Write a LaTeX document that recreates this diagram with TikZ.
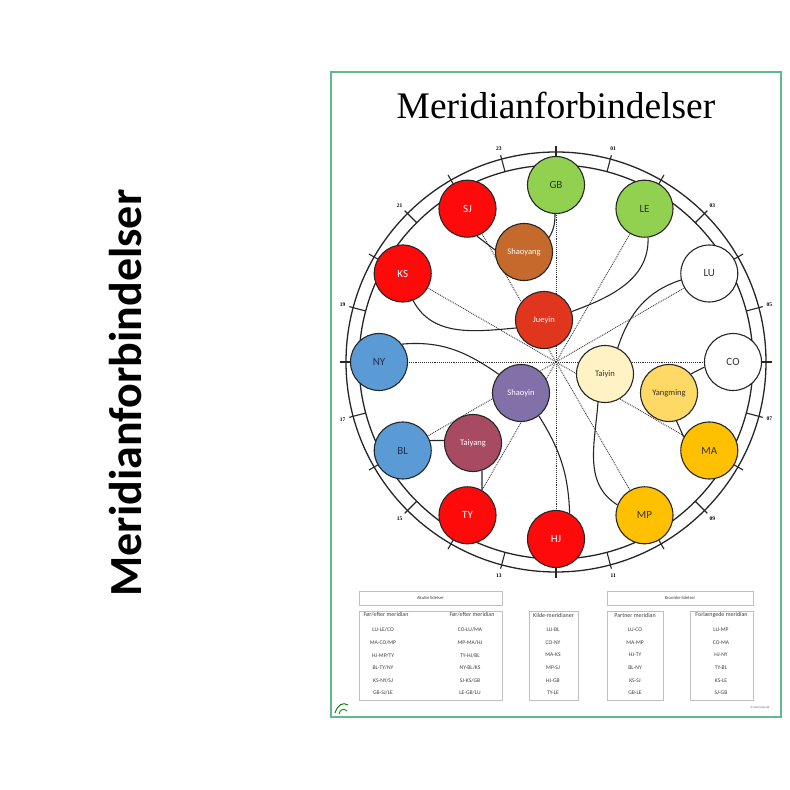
\documentclass[tikz,border=0pt]{standalone}
\usepackage{fontspec}
\setmainfont{Carlito}
\newfontfamily\titlefont{Liberation Serif}
\newfontfamily\tickfont{Liberation Serif}
\pgfdeclarelayer{bg}
\pgfsetlayers{bg,main}
\definecolor{cgreen}{HTML}{92D050}
\definecolor{cgold}{HTML}{FFC000}
\definecolor{cred}{HTML}{FF0A0A}
\definecolor{cblue}{HTML}{5B9BD5}
\definecolor{cshaoyang}{HTML}{C5692C}
\definecolor{cjueyin}{HTML}{E0361E}
\definecolor{cshaoyin}{HTML}{8270A8}
\definecolor{ctaiyang}{HTML}{A84A62}
\definecolor{ctaiyin}{HTML}{FFF2C4}
\definecolor{cyangming}{HTML}{FFD966}
\definecolor{frameg}{HTML}{5DBB8C}
\definecolor{navy}{HTML}{1F3150}
\definecolor{darktxt}{HTML}{333333}
\begin{document}
\begin{tikzpicture}[x=1pt,y=1pt,
  outer/.style={circle, draw=black!85, line width=1.1pt, minimum size=57pt, inner sep=0pt, font=\fontsize{11}{11}\selectfont},
  inner/.style={circle, draw=black!85, line width=1.1pt, minimum size=57pt, inner sep=0pt, font=\fontsize{8.5}{8.5}\selectfont},
  ring/.style={line width=1.3pt, draw=black!85},
  tickmark/.style={line width=1.1pt, draw=black!85},
  ticklabel/.style={font=\tickfont\bfseries\fontsize{5.5}{5.5}\selectfont, inner sep=0pt},
  spoke/.style={densely dotted, line width=0.9pt, draw=black!80},
  link/.style={line width=1.1pt, draw=black!85},
  tbox/.style={draw=black!25, line width=0.5pt, inner sep=0pt},
  thead/.style={font=\fontsize{6}{6}\selectfont, text=black!75, inner sep=0pt},
  tentry/.style={font=\fontsize{5.6}{5.6}\selectfont, text=black!75, inner sep=0pt},
  frame/.style={draw=frameg, line width=1.6pt}
]
\useasboundingbox (0,0) rectangle (790,790);
\begin{pgfonlayer}{bg}
  \fill[white] (0,0) rectangle (790,790);
\end{pgfonlayer}

% side title
\node[rotate=90, font=\fontsize{46}{46}\selectfont\bfseries, inner sep=0pt] (side) at (126,397) {Meridianforbindelser};

% poster frame
\draw[frame] (331,73) rectangle (781,718);
\node[font=\titlefont\fontsize{37.5}{40}\selectfont, inner sep=0pt] (title) at (556,685) {Meridianforbindelser};

\coordinate (C) at (556,428);

% outer meridian circles
\node[outer, fill=cgreen, text=darktxt] (GB) at ([shift={(90:177)}]C) {GB};
\node[outer, fill=cgreen, text=darktxt] (LE) at ([shift={(60:177)}]C) {LE};
\node[outer, fill=white, text=darktxt] (LU) at ([shift={(30:177)}]C) {LU};
\node[outer, fill=white, text=darktxt] (CO) at ([shift={(0:177)}]C) {CO};
\node[outer, fill=cgold, text=darktxt] (MA) at ([shift={(-30:177)}]C) {MA};
\node[outer, fill=cgold, text=darktxt] (MP) at ([shift={(-60:177)}]C) {MP};
\node[outer, fill=cred, text=white] (HJ) at ([shift={(-90:177)}]C) {HJ};
\node[outer, fill=cred, text=white] (TY) at ([shift={(-120:177)}]C) {TY};
\node[outer, fill=cblue, text=navy] (BL) at ([shift={(-150:177)}]C) {BL};
\node[outer, fill=cblue, text=navy] (NY) at ([shift={(180:177)}]C) {NY};
\node[outer, fill=cred, text=white] (KS) at ([shift={(150:177)}]C) {KS};
\node[outer, fill=cred, text=white] (SJ) at ([shift={(120:177)}]C) {SJ};

% inner circles
\node[inner, fill=cshaoyang, text=white] (Shaoyang) at (524,538) {Shaoyang};
\node[inner, fill=cjueyin, text=white] (Jueyin) at (544,470) {Jueyin};
\node[inner, fill=cshaoyin, text=white] (Shaoyin) at (521,397) {Shaoyin};
\node[inner, fill=ctaiyang, text=white] (Taiyang) at (473,347) {Taiyang};
\node[inner, fill=ctaiyin, text=darktxt] (Taiyin) at (605,416) {Taiyin};
\node[inner, fill=cyangming, text=darktxt] (Yangming) at (669,397) {Yangming};

\begin{pgfonlayer}{bg}
  % clock ring
  \draw[ring] (C) circle[radius=210];
  \draw[ring] (C) circle[radius=197];
  \foreach \h in {1,3,...,23}
    \draw[tickmark] ([shift={(90-15*\h:197)}]C) -- ([shift={(90-15*\h:214)}]C);
  \foreach \h in {0,2,...,22}
    \draw[tickmark] ([shift={(90-15*\h:205)}]C) -- ([shift={(90-15*\h:216)}]C);
  % spokes
  \foreach \n in {GB,LE,LU,CO,MA,MP,HJ,TY,BL,NY,KS,SJ}
    \draw[spoke] (C) -- (\n.center);
  % links
  \draw[link] (SJ.-71) -- (Shaoyang.176);
  \draw[link] (Shaoyang.30) to[out=60,in=-90] (GB.-92);
  \draw[link] (KS.-69) to[out=-62,in=185] (Jueyin.196);
  \draw[link] (Jueyin.17) to[out=20,in=-88] (LE.-83);
  \draw[link] (NY.38) to[out=5,in=145] (Shaoyin.140);
  \draw[link] (Shaoyin.-52) to[out=-58,in=92] (HJ.62);
  \draw[link] (BL.20) -- (Taiyang.175);
  \draw[link] (Taiyang.-72) -- (TY.60);
  \draw[link] (Taiyin.64) to[out=72,in=198] (LU.193);
  \draw[link] (Taiyin.-104) to[out=-94,in=148] (MP.159);
  \draw[link] (Yangming.41) -- (CO.190);
  \draw[link] (Yangming.-75) -- (MA.152);
\end{pgfonlayer}

% hour labels
\foreach \h/\l in {1/01,3/03,5/05,7/07,9/09,11/11,13/13,15/15,17/17,19/19,21/21,23/23}
  \node[ticklabel] (hl\l) at ([shift={(90-15*\h:221)}]C) {\l};

% tables
\node[tbox, minimum width=143pt, minimum height=14pt, font=\fontsize{4.6}{4.6}\selectfont, text=black!75] (akut) at (430.5,192) {Akutte lidelser};
\node[tbox, minimum width=143pt, minimum height=89pt] (tab1) at (430.5,134.5) {};
\node[thead] (h1a) at (386,175) {Før/efter meridian};
\node[thead] (h1b) at (472,175) {Før/efter meridian};
\foreach \a [count=\i] in {LU-LE/CO,MA-CO/MP,HJ-MP/TY,BL-TY/NY,KS-NY/SJ,GB-SJ/LE}
  \node[tentry] (ea\i) at (383,{172.6-12.6*\i}) {\a};
\foreach \a [count=\i] in {CO-LU/MA,MP-MA/HJ,TY-HJ/BL,NY-BL/KS,SJ-KS/GB,LE-GB/LU}
  \node[tentry] (eb\i) at (470,{172.6-12.6*\i}) {\a};

\node[tbox, minimum width=49pt, minimum height=89pt] (tab2) at (553.5,134.5) {};
\node[thead] (h2) at (553.5,175) {Kilde-meridianer};
\foreach \a [count=\i] in {LU-BL,CO-NY,MA-KS,MP-SJ,HJ-GB,TY-LE}
  \node[tentry] (ec\i) at (553,{172.6-12.6*\i}) {\a};

\node[tbox, minimum width=146pt, minimum height=14pt, font=\fontsize{4.6}{4.6}\selectfont, text=black!75] (kron) at (680,192) {Kroniske lidelser};
\node[tbox, minimum width=56pt, minimum height=89pt] (tab3) at (635,134.5) {};
\node[thead] (h3) at (635,175) {Partner meridian};
\foreach \a [count=\i] in {LU-CO,MA-MP,HJ-TY,BL-NY,KS-SJ,GB-LE}
  \node[tentry] (ed\i) at (635,{172.6-12.6*\i}) {\a};

\node[tbox, minimum width=63pt, minimum height=89pt] (tab4) at (721.5,134.5) {};
\node[thead] (h4) at (721.5,175) {Forlængede meridian};
\foreach \a [count=\i] in {LU-MP,CO-MA,HJ-NY,TY-BL,KS-LE,SJ-GB}
  \node[tentry] (ee\i) at (721,{172.6-12.6*\i}) {\a};

\node[font=\fontsize{3}{3}\selectfont, text=black!60, inner sep=0pt] (copy) at (760,82) {© Ilsø-Osteo.dk};

% small logo
\draw[green!45!black, line width=0.9pt] (335,77) .. controls (338,86) and (343,88) .. (348,85);
\draw[green!60!black, line width=0.9pt] (339,76) .. controls (340,81) and (344,82) .. (347,79);
\end{tikzpicture}
\end{document}
